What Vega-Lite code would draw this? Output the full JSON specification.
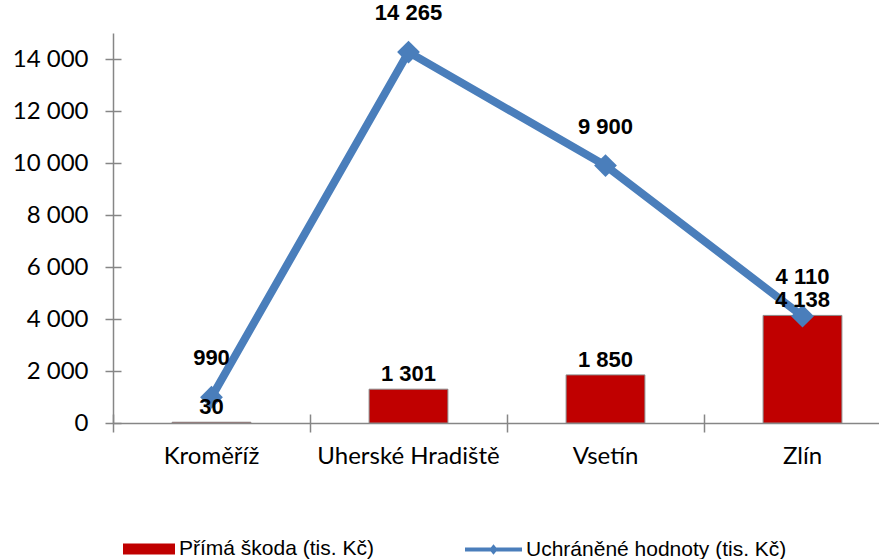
{
  "$schema": "https://vega.github.io/schema/vega-lite/v6.json",
  "width": 788,
  "height": 390,
  "autosize": {"type": "none"},
  "padding": {"left": 113, "top": 33, "right": 0, "bottom": 136},
  "config": {
    "view": {"stroke": null},
    "locale": {"number": {"decimal": ",", "thousands": " ", "grouping": [3], "currency": ["", " Kč"]}}
  },
  "data": {
    "values": [
      {"okres": "Kroměříž", "skoda": 30, "uchraneno": 990},
      {"okres": "Uherské Hradiště", "skoda": 1301, "uchraneno": 14265},
      {"okres": "Vsetín", "skoda": 1850, "uchraneno": 9900},
      {"okres": "Zlín", "skoda": 4138, "uchraneno": 4110}
    ]
  },
  "resolve": {
    "scale": {"color": "independent"},
    "legend": {"color": "independent"},
    "axis": {"x": "independent", "y": "independent"}
  },
  "layer": [
    {
      "mark": {"type": "bar", "width": {"band": 0.4}, "stroke": "#8a8a8a", "strokeWidth": 1},
      "encoding": {
        "x": {
          "field": "okres", "type": "nominal", "sort": null,
          "scale": {"paddingInner": 0, "paddingOuter": 0},
          "axis": {
            "title": null, "labelAngle": 0, "bandPosition": 0, "orient": "bottom", "labelLimit": 400,
            "domainColor": "#868686", "domainWidth": 1.5, "tickColor": "#868686", "tickWidth": 1.5, "tickSize": 9,
            "labelFont": "Lato", "labelFontSize": 24, "labelColor": "#000000", "labelPadding": 12, "grid": false
          }
        },
        "y": {
          "field": "skoda", "type": "quantitative",
          "scale": {"domain": [0, 15000], "nice": false},
          "axis": {
            "title": null, "orient": "left", "values": [0, 2000, 4000, 6000, 8000, 10000, 12000, 14000], "format": ",d",
            "domainColor": "#868686", "domainWidth": 1.5, "tickColor": "#868686", "tickWidth": 1.5, "tickSize": 8,
            "labelFont": "Lato", "labelFontSize": 24, "labelColor": "#000000", "labelPadding": 17, "grid": false
          }
        },
        "color": {
          "datum": "Přímá škoda (tis. Kč)", "type": "nominal",
          "scale": {"range": ["#C00000"]},
          "legend": {
            "title": null, "orient": "none", "legendX": 10, "legendY": 490, "labelLimit": 400,
            "symbolType": "M-1,-0.21H1V0.21H-1Z", "symbolSize": 2704, "symbolStrokeWidth": 0,
            "labelFont": "Liberation Sans", "labelFontSize": 21, "labelColor": "#000000", "labelOffset": 4
          }
        }
      }
    },
    {
      "mark": {"type": "line", "strokeWidth": 8, "point": {"shape": "diamond", "size": 520, "filled": true}},
      "encoding": {
        "x": {
          "field": "okres", "type": "nominal", "sort": null,
          "axis": {
            "title": null, "orient": "bottom", "bandPosition": 0, "labels": false, "domain": false,
            "tickColor": "#868686", "tickWidth": 1.5, "tickSize": -9, "grid": false
          }
        },
        "y": {
          "field": "uchraneno", "type": "quantitative",
          "scale": {"domain": [0, 15000], "nice": false},
          "axis": {
            "title": null, "orient": "left", "values": [0, 2000, 4000, 6000, 8000, 10000, 12000, 14000],
            "labels": false, "domain": false,
            "tickColor": "#868686", "tickWidth": 1.5, "tickSize": -8, "grid": false
          }
        },
        "color": {
          "datum": "Uchráněné hodnoty (tis. Kč)", "type": "nominal",
          "scale": {"range": ["#4A7EBB"]},
          "legend": {
            "title": null, "orient": "none", "legendX": 352, "legendY": 488, "labelLimit": 400,
            "symbolType": "M-1,-0.07H1V0.07H-1Z M0,-0.18L0.15,0L0,0.18L-0.15,0Z", "symbolSize": 3249,
            "symbolFillColor": "#4A7EBB", "symbolStrokeColor": "#4A7EBB", "symbolStrokeWidth": 0,
            "encode": {"symbols": {"update": {"fill": {"value": "#4A7EBB"}, "stroke": {"value": "#4A7EBB"}, "strokeWidth": {"value": 0}}}},
            "labelFont": "Liberation Sans", "labelFontSize": 21, "labelColor": "#000000", "labelOffset": 4
          }
        }
      }
    },
    {
      "mark": {"type": "text", "dy": -15, "font": "Liberation Sans", "fontSize": 22, "fontWeight": "bold", "color": "#000000"},
      "encoding": {
        "x": {"field": "okres", "type": "nominal", "sort": null, "axis": null},
        "y": {"field": "skoda", "type": "quantitative", "scale": {"domain": [0, 15000], "nice": false}, "axis": null},
        "text": {"field": "skoda", "type": "quantitative", "format": ",d"}
      }
    },
    {
      "mark": {"type": "text", "dy": -39, "font": "Liberation Sans", "fontSize": 22, "fontWeight": "bold", "color": "#000000"},
      "encoding": {
        "x": {"field": "okres", "type": "nominal", "sort": null, "axis": null},
        "y": {"field": "uchraneno", "type": "quantitative", "scale": {"domain": [0, 15000], "nice": false}, "axis": null},
        "text": {"field": "uchraneno", "type": "quantitative", "format": ",d"}
      }
    }
  ]
}
